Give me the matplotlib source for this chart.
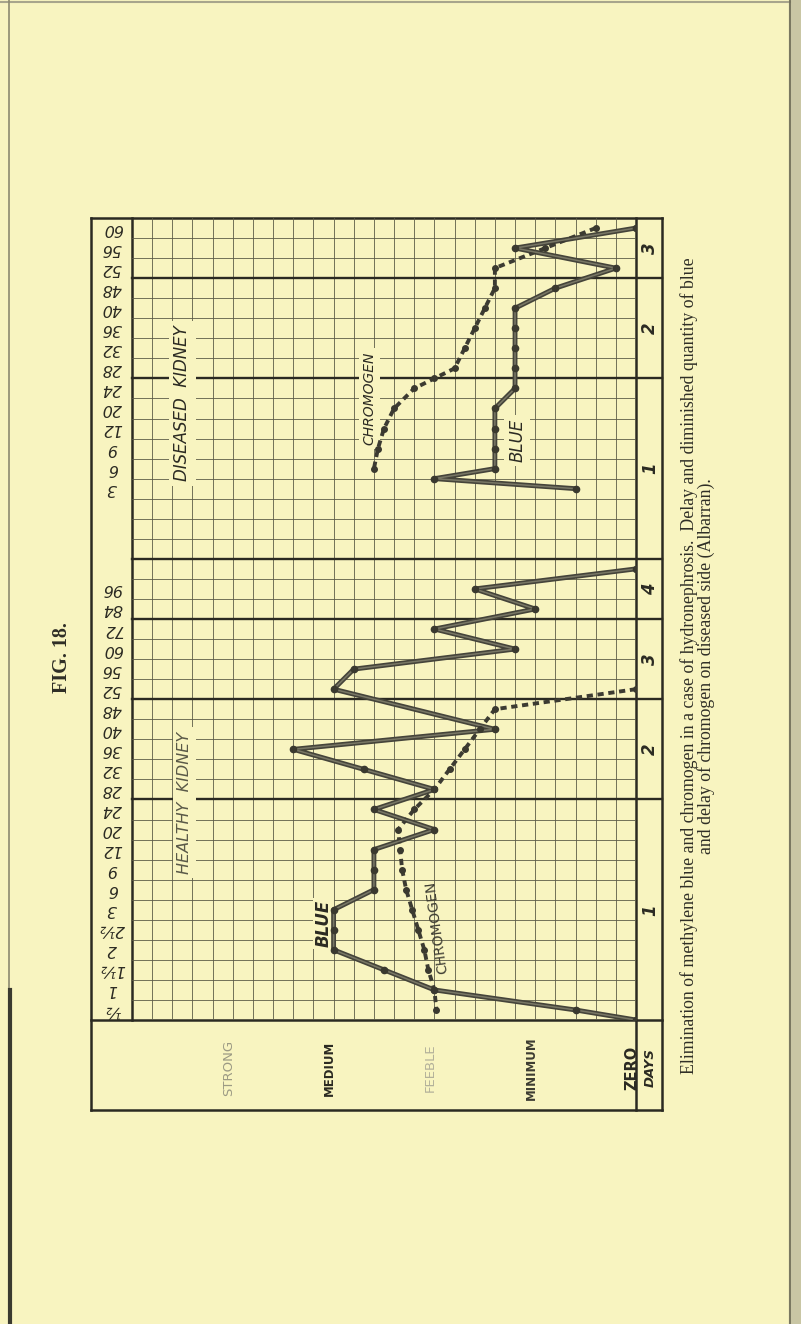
import numpy as np
import matplotlib
matplotlib.use("Agg")
import matplotlib.pyplot as plt
from matplotlib.transforms import blended_transform_factory

W, H = 801, 1324
PAPER = "#f8f4c0"
INK = "#2b2a22"
GRIDC = "#5c5b47"

# hour labels, top row first ("" = unlabelled row)
diseased_hours = ["60", "56", "52", "48", "40", "36", "32", "28", "24", "20",
                  "12", "9", "6", "3", "", "", ""]
healthy_hours = ["", "96", "84", "72", "60", "56", "52", "48", "40", "36", "32",
                 "28", "24", "20", "12", "9", "6", "3", "2½", "2", "1½", "1", "½"]
hour_labels = diseased_hours + healthy_hours

# day blocks down the right-hand column
day_labels = ["3", "2", "1", "4", "3", "2", "1"]
day_rows = [3, 5, 9, 3, 4, 5, 11]

# intensity scale (grid column where each grade sits)
intensity_labels = ["STRONG", "MEDIUM", "FEEBLE", "MINIMUM", "ZERO"]
intensity_cols = [5, 10, 15, 20, 25]

# diseased kidney: row index (0 = top row) and intensity column
dis_blue_row = [0, 1, 2, 3, 4, 5, 6, 7, 8, 9, 10, 11, 12, 12.5, 13]
dis_blue_col = [25, 19, 24, 21, 19, 19, 19, 19, 19, 18, 18, 18, 18, 15, 22]
dis_chrom_row = [0, 1, 2, 3, 4, 5, 6, 7, 7.5, 8, 9, 10, 11, 12]
dis_chrom_col = [23, 20.5, 18, 18, 17.5, 17, 16.5, 16, 15, 14, 13, 12.5, 12.2, 12]

# healthy kidney
hea_blue_row = [17, 18, 19, 20, 21, 22, 23, 25, 26, 27, 28, 29, 30, 31, 32, 33,
                34, 35, 36, 37, 38, 39, 39.5]
hea_blue_col = [25, 17, 20, 15, 19, 11, 10, 18, 8, 11.5, 15, 12, 15, 12, 12, 12,
                10, 10, 10, 12.5, 15, 22, 25]
hea_chrom_row = [23, 24, 25, 26, 27, 28, 29, 30, 31, 32, 33, 34, 35, 36, 37, 38, 39]
hea_chrom_col = [25, 18, 17.25, 16.5, 15.75, 15, 14, 13.2, 13.3, 13.4, 13.6, 13.9,
                 14.2, 14.5, 14.7, 15, 15.1]

caption1 = ("Elimination of methylene blue and chromogen in a case of hydronephrosis.  "
            "Delay and diminished quantity of blue")
caption2 = "and delay of chromogen on diseased side (Albarran)."

# layout in page pixels
GX0, GX1, GY0, GY1 = 132, 636, 218, 1020
BOX_L, DAY_R, BOX_B = 91, 662, 1110

fig = plt.figure(figsize=(W / 100, H / 100), dpi=100)
fig.patch.set_facecolor(PAPER)

page = fig.add_axes([0, 0, 1, 1])
page.set_xlim(0, W)
page.set_ylim(H, 0)
page.axis("off")

ax = fig.add_axes([GX0 / W, 1 - GY1 / H, (GX1 - GX0) / W, (GY1 - GY0) / H])
n_rows = len(hour_labels)
ax.set_xlim(0, 25)
ax.set_ylim(n_rows, 0)
ax.axis("off")

# graph paper
for c in range(1, 25):
    ax.axvline(c, color=GRIDC, lw=0.6, zorder=1)
for r in range(1, n_rows):
    ax.axhline(r, color=GRIDC, lw=0.6, zorder=1)
day_edges = np.cumsum(day_rows)
xmax_day = (DAY_R - GX0) / (GX1 - GX0)
for b in day_edges[:-1]:
    ax.axhline(b, xmin=0, xmax=xmax_day, color=INK, lw=1.7, clip_on=False, zorder=2)

# frame
frame_kw = dict(color=INK, lw=1.8, solid_capstyle="projecting")
page.plot([BOX_L, DAY_R], [GY0, GY0], **frame_kw)
page.plot([BOX_L, DAY_R], [GY1, GY1], **frame_kw)
page.plot([BOX_L, DAY_R], [BOX_B, BOX_B], **frame_kw)
page.plot([BOX_L, BOX_L], [GY0, BOX_B], **frame_kw)
page.plot([GX0, GX0], [GY0, GY1], **frame_kw)
page.plot([GX1, GX1], [GY0, BOX_B], **frame_kw)
page.plot([DAY_R, DAY_R], [GY0, BOX_B], **frame_kw)

# hour labels (upside down) and day labels
row_trans = blended_transform_factory(page.transData, ax.transData)
for i, lab in enumerate(hour_labels):
    page.text(112, i + 0.5, lab, transform=row_trans, rotation=180, ha="center",
              va="center", fontsize=11.5, style="italic", color=INK)
day_centers = day_edges - np.array(day_rows) / 2
for lab, yc in zip(day_labels, day_centers):
    page.text(650, yc, lab, transform=row_trans, rotation=90, ha="center",
              va="center", fontsize=12, weight="bold", style="italic", color=INK)
page.text(650, 1068, "DAYS", rotation=90, ha="center", va="center", fontsize=9.5,
          weight="bold", style="italic", color=INK)

# intensity grades along the bottom
col_trans = blended_transform_factory(ax.transData, page.transData)
grade_style = {
    "STRONG": dict(color="#9c9a84", weight="normal", fontsize=9.5),
    "MEDIUM": dict(color=INK, weight="bold", fontsize=8.5),
    "FEEBLE": dict(color="#b3b19a", weight="normal", fontsize=9.5),
    "MINIMUM": dict(color="#3d3c32", weight="bold", fontsize=8.5),
    "ZERO": dict(color=INK, weight="bold", fontsize=10.5),
}
for lab, c in zip(intensity_labels, intensity_cols):
    page.text(c - 0.2, 1068, lab, transform=col_trans, rotation=90, ha="center",
              va="center", **grade_style[lab])

# section and curve labels
box = dict(boxstyle="square,pad=0.25", fc=PAPER, ec="none")
ax.text(2.5, 9.25, "DISEASED  KIDNEY", rotation=90, ha="center", va="center",
        fontsize=12, style="italic", color=INK, bbox=box, zorder=3)
ax.text(2.6, 29.15, "HEALTHY  KIDNEY", rotation=90, ha="center", va="center",
        fontsize=11.5, style="italic", color="#5a5948", bbox=box, zorder=3)
ax.text(11.8, 9.0, "CHROMOGEN", rotation=90, ha="center", va="center",
        fontsize=10, style="italic", color=INK, bbox=box, zorder=3)
ax.text(19.1, 11.1, "BLUE", rotation=90, ha="center", va="center",
        fontsize=12, style="italic", color=INK, bbox=box, zorder=3)
ax.text(9.5, 35.2, "BLUE", rotation=90, ha="center", va="center",
        fontsize=12, style="italic", weight="bold", color=INK,
        bbox=dict(boxstyle="square,pad=0.1", fc=PAPER, ec="none"), zorder=3)
ax.text(15.1, 35.4, "CHROMOGEN", rotation=98, ha="center", va="center",
        fontsize=10, color="#3d3c32", zorder=3)


def blue_curve(rows, cols):
    y = np.array(rows) + 0.5
    ax.plot(cols, y, color="#45443a", lw=3.5, solid_joinstyle="round", zorder=4)
    ax.plot(cols, y, color="#8f8d78", lw=1.1, alpha=0.7, zorder=5)
    ax.plot(cols, y, "o", ms=4.5, color="#3a392f", zorder=6)


def chrom_curve(rows, cols):
    y = np.array(rows) + 0.5
    ax.plot(cols, y, color="#3c3b32", lw=2.8, linestyle=(0, (1.6, 1.2)), zorder=4)
    ax.plot(cols, y, "o", ms=4, color="#3a392f", zorder=6)


blue_curve(dis_blue_row, dis_blue_col)
chrom_curve(dis_chrom_row, dis_chrom_col)
blue_curve(hea_blue_row, hea_blue_col)
chrom_curve(hea_chrom_row, hea_chrom_col)

# caption and figure number
page.text(689, 666, caption1, rotation=90, ha="center", va="center",
          family="Liberation Serif", fontsize=12.8, color="#2f2e26")
page.text(706, 666, caption2, rotation=90, ha="center", va="center",
          family="Liberation Serif", fontsize=12.8, color="#2f2e26")
page.text(62, 658, "FIG. 18.", rotation=90, ha="center", va="center",
          family="Liberation Serif", weight="bold", fontsize=14.5, color="#2f2e26")

# page edges of the scan
page.plot([0, 790], [2, 2], color="#a8a58c", lw=1.5)
page.plot([9, 9], [0, H], color="#8d8a70", lw=1.2)
page.plot([10, 10], [990, H], color="#3a3a30", lw=3)
page.fill_betweenx([0, H], 789, W, color="#c9c6a4")
page.plot([790, 790], [0, H], color="#6b6954", lw=1.2)

fig.savefig("out.png", dpi=100, facecolor=PAPER)
